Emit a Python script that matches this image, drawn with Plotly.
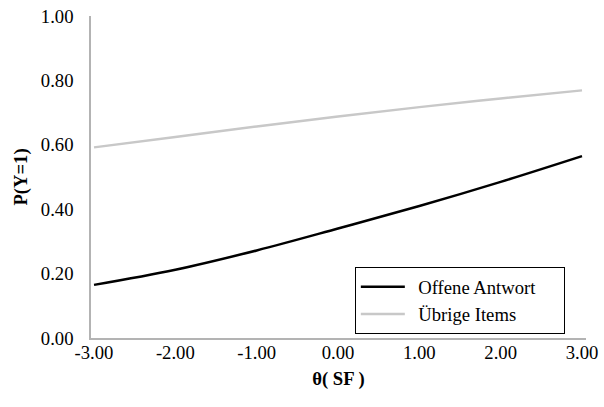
import plotly.graph_objects as go

theta = [-3, -2, -1, 0, 1, 2, 3]
offene_antwort = [0.165, 0.212, 0.272, 0.340, 0.410, 0.485, 0.565]
uebrige_items = [0.592, 0.624, 0.657, 0.688, 0.717, 0.744, 0.769]

x_ticks = [-3, -2, -1, 0, 1, 2, 3]
x_ticklabels = ["-3.00", "-2.00", "-1.00", "0.00", "1.00", "2.00", "3.00"]
y_ticks = [0, 0.2, 0.4, 0.6, 0.8, 1.0]
y_ticklabels = ["0.00", "0.20", "0.40", "0.60", "0.80", "1.00"]

FONT = "Liberation Serif, Times New Roman, serif"
NB = "\u00a0"
LEAD = NB + "\u2009"

fig = go.Figure()
fig.add_trace(go.Scatter(x=theta, y=offene_antwort, mode="lines", name=LEAD + "Offene Antwort" + NB * 5,
                         line=dict(color="#000000", width=2.5, shape="spline", smoothing=1)))
fig.add_trace(go.Scatter(x=theta, y=uebrige_items, mode="lines", name=LEAD + "Übrige Items",
                         line=dict(color="#c8c8c8", width=2.5, shape="spline", smoothing=1)))

fig.update_layout(
    width=604, height=407,
    margin=dict(l=91, r=18, t=16, b=69, autoexpand=False),
    paper_bgcolor="white", plot_bgcolor="white",
    font=dict(family=FONT, size=18.67, color="#000000"),
    showlegend=True,
    legend=dict(x=0.533, y=0.2205, xanchor="left", yanchor="top",
                bordercolor="#000000", borderwidth=1, bgcolor="white",
                font=dict(family=FONT, size=18.67), tracegroupgap=0,
                itemwidth=44),
    xaxis=dict(range=[-3.037, 3.049], tickvals=x_ticks, ticktext=x_ticklabels,
               showgrid=False, zeroline=False, showline=True, linecolor="#b3b3b3", linewidth=1.5,
               ticks="", ticklabelstandoff=-3, automargin=True,
               title=dict(text="<b>θ( SF )</b>", font=dict(family=FONT, size=18.67), standoff=10)),
    yaxis=dict(range=[0, 1.0], tickvals=y_ticks, ticktext=y_ticklabels,
               showgrid=False, zeroline=False, showline=True, linecolor="#b3b3b3", linewidth=1.5,
               ticks="", ticklabelstandoff=12, automargin=True,
               title=dict(text="<b>P(Y=1)</b>", font=dict(family=FONT, size=18.67), standoff=8)),
)

fig.write_html("out.html", config={"displayModeBar": False},
               post_script="document.body.style.margin='0';")
